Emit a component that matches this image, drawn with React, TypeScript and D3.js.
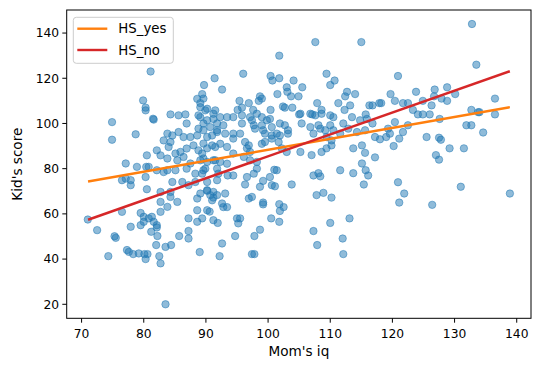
import React from 'react';
import * as d3 from 'd3';

// mother's iq / kid's score pairs
const momIq = [
  107.6, 115, 132.8, 81.1, 101.8, 133.5, 120.9, 96, 91.4, 89.7, 92.6, 100.4, 101.8, 100.7, 104.1, 109.4, 110.7, 110, 103, 103.1,
  101.5, 103.7, 104.9, 105.5, 89.4, 89.6, 89.1, 95.4, 96.9, 95.8, 95.1, 97.6, 98.7, 99, 98.5, 100.4, 102.4, 102.7, 103.9, 105,
  107.9, 108.6, 107.1, 111.3, 112.3, 113.2, 112.7, 114, 112.4, 115.7, 116.3, 116.8, 117.9, 118.2, 119.7, 120.4, 121.7, 122.5, 123.8, 124.9,
  123.3, 124.1, 124.9, 126, 126.3, 126.8, 126.7, 128.8, 128.8, 130.1, 127.9, 132.7, 133.8, 134, 136.5, 136.5, 116.8, 115.6, 117.2, 118,
  119, 119.6, 119.3, 120.4, 121.1, 121.7, 122.5, 120.2, 117.2, 115.6, 115.1, 115.7, 116.1, 115.4, 127.6, 131.9, 132.7, 134.6, 125.5, 127.5,
  127.8, 129.2, 131.5, 127, 127.5, 120.9, 121.9, 121.1, 126.4, 131, 138.9, 91.9, 95, 95.5, 95.2, 98.7, 100.5, 101.8, 110, 113.1,
  89.4, 90.6, 101.9, 102.5, 101.8, 99.2, 99.2, 96.9, 97.4, 92.6, 92.8, 93.4, 91, 91.2, 90.7, 90.2, 93.1, 98.7, 100.6, 101.1,
  103.8, 107.8, 108.9, 110.2, 107.3, 108.1, 108.4, 111.6, 113.7, 113.7, 110.2, 109.4, 107, 108.6, 105.2, 101.4, 101, 100.3, 99.2, 98.2,
  97.7, 96.6, 96.3, 94.4, 93.5, 91.8, 89.9, 89.4, 91.2, 92.3, 93.4, 94.4, 96.1, 97.1, 98.2, 99, 99.5, 100.6, 101.7, 102.2,
  103, 96.3, 96.9, 96.6, 97.1, 92.3, 93.4, 91.5, 90.2, 89.4, 89.6, 94.4, 95.5, 94.4, 93.1, 91.8, 90.7, 89.6, 91.8, 92.8,
  91.2, 89.1, 95.8, 97.4, 97.7, 97.9, 99.2, 99, 99.8, 100.3, 100.6, 101.9, 102.7, 103.2, 103.2, 101.9, 100.6, 101.4, 99.5, 105.2,
  106.8, 107.6, 108.6, 110, 110.5, 112.1, 113.5, 114.8, 115.9, 105.4, 106.8, 108.4, 107.3, 109.2, 108.1, 110, 110.5, 109.4, 110.2, 111.6,
  112.9, 114.3, 115.1, 92.3, 93.4, 94.4, 95.8, 97.1, 98.2, 99, 74.9, 74.9, 78.7, 81.6, 80.3, 84.3, 85.6, 86.7, 86.9, 88.8,
  89.9, 90.2, 91.2, 83.8, 84.6, 85.6, 86.4, 87.5, 88.6, 90.2, 91, 91.8, 88.8, 89.6, 88, 89.6, 91, 88.8, 86.9, 85.9,
  85.1, 84, 84.3, 83.2, 82.1, 82.7, 80.5, 83.8, 85.4, 86.4, 87.5, 89.1, 90.2, 91.5, 77.1, 78.9, 80.3, 80.4, 80.8, 82.1,
  83.2, 83.8, 85.1, 86.9, 88.3, 89.6, 77.1, 77.9, 77.9, 76.5, 80.5, 84.6, 86.2, 87.2, 88.3, 90.2, 90.2, 91.2, 88.6, 89.1,
  91.8, 92, 91.8, 82.7, 84.3, 82.7, 84.3, 85.4, 82.7, 83.8, 88.6, 90.2, 87.2, 88.6, 91.2, 79.5, 80, 80.8, 81.3, 80,
  81.6, 82.1, 79.5, 77.9, 76.5, 72.5, 71, 75.3, 75.5, 74.3, 77.3, 77.6, 78.3, 79.2, 80.1, 80.6, 80.3, 81.2, 82.1, 82.2,
  82, 82.5, 82.7, 83.5, 84.4, 85.7, 87.2, 87.2, 89, 92.2, 92.6, 83.5, 94.7, 97.8, 97.4, 97.8, 107.3, 107.9, 112, 112.1,
  88.6, 89.1, 90.2, 91.5, 79.9, 80.3, 81.5,
];
const kidScore = [
  136, 136, 144, 123, 130, 126, 121, 122, 120, 117, 115, 121, 120, 119, 119, 122, 119, 117, 116, 114,
  113, 112, 112, 116, 113, 111, 109, 110, 109, 107, 106, 106, 112, 111, 110, 106, 107.5, 107, 107, 104,
  109, 106, 104, 109, 106, 108, 114, 113, 112, 104, 108, 108, 109, 109, 113, 110, 109, 109, 114, 110,
  106, 104, 104, 104, 108, 115, 112, 116, 110, 113, 111, 106, 105, 105, 111, 104, 100, 97, 94, 93,
  94, 95.5, 97.7, 100.6, 93.3, 96.2, 99.2, 90, 85, 87, 82.3, 79.3, 77, 73, 102, 99.2, 99.2, 96, 94, 93.7,
  92.8, 89, 89, 86, 84, 74, 69, 65, 64, 72, 69, 56, 58, 58, 55.8, 53, 58, 56.5, 56, 58,
  58, 61, 61.3, 63, 64.3, 65, 64.2, 66.8, 67.5, 64.6, 63, 63, 66, 67.2, 68.3, 70.2, 69, 72, 72.7, 72.2,
  73, 68.3, 69.3, 67.2, 77, 78, 76.6, 79.3, 78, 89, 90.3, 89, 86, 87.4, 87.4, 79.3, 79.5, 76.3, 74.6, 80,
  77.8, 76.3, 73, 77, 77, 80, 80, 77.8, 83.7, 83, 82.2, 86.7, 85.2, 83.7, 83, 91, 91.8, 93.3, 91.8, 89,
  87.4, 91.8, 90.3, 89, 87.4, 91, 89.6, 89.6, 89, 86.7, 84.5, 93.3, 95.5, 95.5, 95.5, 97, 98.4, 100, 100, 99.2,
  102, 102.8, 100, 101.4, 99.2, 97.7, 97, 99.2, 101.4, 102, 98.4, 100, 99.2, 97, 95.5, 94.7, 94.7, 95.5, 95.5, 104.3,
  104.3, 103.6, 104.3, 103.6, 102.8, 100, 102.8, 101.4, 102, 100, 98.4, 97.7, 95.5, 97, 99.2, 99.2, 97, 94, 92.5, 95.5,
  97.7, 96.2, 90.3, 102.8, 102.8, 102.8, 103.6, 102.8, 104.3, 102.8, 100.6, 92.8, 95.2, 101.7, 105.8, 104, 103.6, 104, 100, 103.6,
  105.8, 101.4, 104.3, 95.5, 94.7, 96.2, 94, 94, 94.7, 94, 94.7, 96.2, 97.7, 97, 90.3, 91.1, 90.3, 88.1, 88.9, 87.4,
  86.7, 89.6, 91.8, 92.5, 88.1, 85.9, 85.9, 84.5, 83.7, 85.2, 82.3, 83.7, 83, 83.7, 82.3, 80.8, 76.3, 80.8, 80.8, 79.3,
  78.5, 79.3, 79.3, 80, 77.8, 79.3, 75.6, 74.9, 72.7, 74.9, 70.9, 74.1, 74.1, 72.7, 74.1, 74.1, 70.5, 69.7, 66.8, 69,
  68.3, 77.8, 74.9, 69.7, 69.7, 65.3, 67.5, 65.3, 60.9, 63.1, 61.6, 61.6, 58, 56.5, 57.2, 60.4, 58.7, 58, 58.7, 56.5,
  56.5, 55, 55, 54.3, 60.9, 52.8, 57.5, 50.1, 49.4, 41.3, 44, 43.2, 42.2, 42.5, 42.2, 42.2, 40, 52.1, 54, 50.2,
  46.2, 41.3, 38.1, 45.4, 46.2, 50.2, 52.4, 49.1, 43.1, 41.3, 46.9, 20, 50.2, 50.2, 42.2, 42.2, 52.4, 46.2, 49.1, 42.2,
  110.9, 107.2, 106.5, 105.8, 110.2, 107, 102.1,
];

// fitted lines (interaction model), evaluated at the iq extremes
const fitIq = [71.04, 138.89];
const hsYes = [74.3, 107.2];
const hsNo = [57.4, 123.1];

const xTicks = [70, 80, 90, 100, 110, 120, 130, 140];
const yTicks = [20, 40, 60, 80, 100, 120, 140];

const W = 540;
const H = 371;
const left = 66.7;
const right = 531;
const top = 10;
const bottom = 318.3;
const font = 'DejaVu Sans, sans-serif';

function pad([a, b]: [number, number]) {
  const s = (b - a) * 0.05;
  return [a - s, b + s];
}

export default function App() {
  const x = d3.scaleLinear().domain(pad(d3.extent(momIq) as [number, number])).range([left, right]);
  const y = d3.scaleLinear().domain(pad(d3.extent(kidScore) as [number, number])).range([bottom, top]);
  const line = d3.line<[number, number]>().x((d) => x(d[0])).y((d) => y(d[1]));

  const series = [
    { name: 'HS_yes', vals: hsYes, color: '#ff7f0e' },
    { name: 'HS_no', vals: hsNo, color: '#d62728' },
  ];

  return (
    <svg width={W} height={H} style={{ position: 'absolute', left: 0, top: 0, background: '#fff' }} fontFamily={font}>
      <g>
        {momIq.map((m, i) => (
          <circle key={i} cx={x(m)} cy={y(kidScore[i])} r={3.7}
            fill="#1f77b4" fillOpacity={0.5} stroke="#1f77b4" strokeOpacity={0.5} strokeWidth={1} />
        ))}
      </g>
      {series.map((s) => (
        <path key={s.name} d={line(fitIq.map((v, i) => [v, s.vals[i]] as [number, number])) || ''}
          fill="none" stroke={s.color} strokeWidth={2.4} />
      ))}
      <rect x={left} y={top} width={right - left} height={bottom - top} fill="none" stroke="#000" strokeWidth={1} />
      {xTicks.map((t) => (
        <g key={t} transform={`translate(${x(t)},${bottom})`}>
          <line y2={4.4} stroke="#000" />
          <text y={19.8} textAnchor="middle" fontSize={12.3}>{t}</text>
        </g>
      ))}
      {yTicks.map((t) => (
        <g key={t} transform={`translate(${left},${y(t)})`}>
          <line x2={-4.4} stroke="#000" />
          <text x={-7.5} dy="0.35em" textAnchor="end" fontSize={12.3}>{t}</text>
        </g>
      ))}
      <text x={(left + right) / 2} y={356} textAnchor="middle" fontSize={13.6}>Mom's iq</text>
      <text transform={`translate(21.5,${(top + bottom) / 2}) rotate(-90)`} textAnchor="middle" fontSize={13.6}>Kid's score</text>
      <g>
        <rect x={73.3} y={17.3} width={100} height={46} rx={3} fill="#fff" fillOpacity={0.8} stroke="#ccc" />
        {series.map((s, i) => (
          <g key={s.name} transform={`translate(0,${28.7 + i * 21.3})`}>
            <line x1={77.3} x2={107.3} stroke={s.color} strokeWidth={2.4} />
            <text x={118.3} dy="0.35em" fontSize={13.3}>{s.name}</text>
          </g>
        ))}
      </g>
    </svg>
  );
}
